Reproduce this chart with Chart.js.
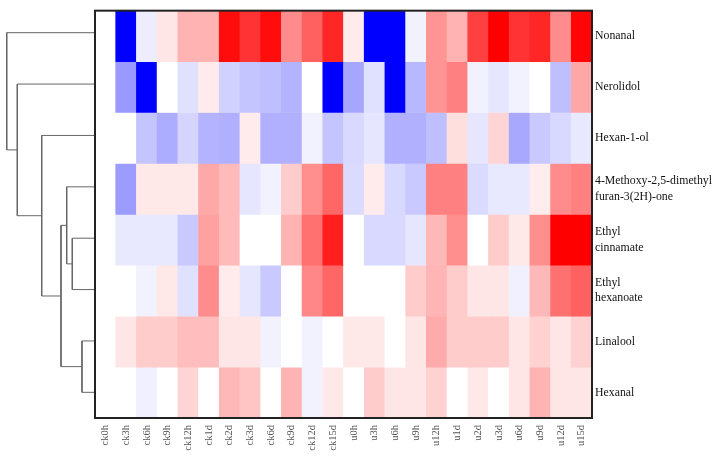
<!DOCTYPE html>
<html>
<head>
<meta charset="utf-8">
<script src="https://cdn.jsdelivr.net/npm/chart.js@4.4.0/dist/chart.umd.min.js"></script>
<style>
  html, body { margin: 0; padding: 0; background: #fff; }
  #wrap { position: relative; width: 716px; height: 460px; }
  #wrap canvas { position: absolute; top: 0; left: 0; }
</style>
</head>
<body>
<div id="wrap">
  <canvas id="tree" width="95" height="460"></canvas>
  <canvas id="heat" width="716" height="460"></canvas>
</div>
<script>
// 样本（列）
const SAMPLES = ['ck0h', 'ck3h', 'ck6h', 'ck9h', 'ck12h', 'ck1d', 'ck2d', 'ck3d', 'ck6d', 'ck9d', 'ck12d', 'ck15d',
                 'u0h', 'u3h', 'u6h', 'u9h', 'u12h', 'u1d', 'u2d', 'u3d', 'u6d', 'u9d', 'u12d', 'u15d'];

// 化合物（行，自上而下）
const COMPOUNDS = [
    ['Nonanal'],
    ['Nerolidol'],
    ['Hexan-1-ol'],
    ['4-Methoxy-2,5-dimethyl', 'furan-3(2H)-one'],
    ['Ethyl', 'cinnamate'],
    ['Ethyl', 'hexanoate'],
    ['Linalool'],
    ['Hexanal']
];

// 标准化含量（-1 蓝 … 0 白 … 1 红）
const NONANAL      = [0, -1, -0.07, 0.1, 0.3, 0.3, 0.95, 0.8, 0.95, 0.45, 0.62, 0.85, 0.08, -1, -1, -0.05, 0.42, 0.3, 0.75, 1.0, 0.8, 0.85, 0.45, 0.98];
const NEROLIDOL    = [0, -0.4, -1, 0, -0.12, 0.08, -0.18, -0.23, -0.25, -0.3, 0, -1, -0.35, -0.12, -1, -0.28, 0.42, 0.5, -0.05, -0.1, -0.05, 0, -0.25, 0.35];
const HEXANOL      = [0, 0, -0.23, -0.32, -0.17, -0.3, -0.31, 0.08, -0.31, -0.31, -0.05, -0.23, -0.15, -0.1, -0.31, -0.31, -0.25, 0.13, -0.1, 0.17, -0.34, -0.21, -0.15, -0.09];
const METHOXY      = [0, -0.39, 0.09, 0.09, 0.09, 0.34, 0.27, -0.1, -0.05, 0.2, 0.44, 0.6, -0.14, 0.08, -0.15, -0.21, 0.5, 0.5, -0.14, -0.09, -0.09, 0.07, 0.45, 0.5];
const CINNAMATE    = [0, -0.09, -0.09, -0.09, -0.21, 0.37, 0.27, 0, 0, 0.3, 0.56, 0.88, 0, -0.15, -0.15, -0.1, 0.28, 0.44, 0, 0.2, 0.09, 0.44, 1.0, 1.0];
const HEXANOATE    = [0, 0, -0.05, 0.09, -0.12, 0.45, 0.08, -0.1, -0.21, 0, 0.47, 0.6, 0, 0, 0, 0.2, 0.29, 0.2, 0.1, 0.1, -0.06, 0.28, 0.56, 0.62];
const LINALOOL     = [0, 0.1, 0.2, 0.2, 0.26, 0.26, 0.1, 0.1, -0.05, 0, -0.05, 0, 0.09, 0.09, 0, 0.1, 0.33, 0.2, 0.2, 0.2, 0.1, 0.18, 0.1, 0.18];
const HEXANAL      = [0, 0, -0.06, 0, 0.17, 0, 0.28, 0.23, 0, 0.3, -0.05, 0.09, 0, 0.2, 0.1, 0.1, 0.18, 0, 0.09, 0, 0.1, 0.3, 0.1, 0.1];

const ROWS = [NONANAL, NEROLIDOL, HEXANOL, METHOXY, CINNAMATE, HEXANOATE, LINALOOL, HEXANAL];

// 行聚类：[子节点A, 子节点B, 高度]，叶子 0-7，合并节点从 8 起
const LINKAGE = [
    [4, 5, 2.39],
    [3, 8, 2.98],
    [6, 7, 1.37],
    [9, 10, 3.58],
    [2, 11, 5.61],
    [1, 12, 8.18],
    [0, 13, 9.29]
];

const FONT = 'Liberation Serif';

// 蓝-白-红色阶
function shade(v) {
    if (v >= 0) {
        const c = Math.round(255 * (1 - v));
        return `rgb(255,${c},${c})`;
    }
    const c = Math.round(255 * (1 + v));
    return `rgb(${c},${c},255)`;
}

// 树状图
function buildTree() {
    const nodes = ROWS.map((_, i) => ({ h: 0, y: i + 0.5 }));
    const segments = [];
    LINKAGE.forEach(([a, b, h]) => {
        const A = nodes[a], B = nodes[b];
        segments.push([
            { x: A.h, y: A.y }, { x: h, y: A.y },
            { x: h, y: B.y }, { x: B.h, y: B.y }
        ]);
        nodes.push({ h, y: (A.y + B.y) / 2 });
    });

    new Chart(document.getElementById('tree'), {
        type: 'scatter',
        data: {
            datasets: segments.map(pts => ({
                data: pts,
                showLine: true,
                borderColor: '#666',
                borderWidth: 1,
                pointRadius: 0,
                tension: 0
            }))
        },
        options: {
            responsive: false,
            animation: false,
            layout: { padding: { top: 7, bottom: 42, left: 0, right: 0 } },
            plugins: { legend: { display: false }, tooltip: { enabled: false } },
            scales: {
                x: { type: 'linear', min: 0, max: 10, reverse: true, display: false },
                y: { type: 'linear', min: 0, max: 8, reverse: true, display: false }
            }
        }
    });
}

// 外框
const framePlugin = {
    id: 'frame',
    afterDatasetsDraw(chart) {
        const { ctx, chartArea: a } = chart;
        ctx.save();
        ctx.strokeStyle = '#222';
        ctx.lineWidth = 2;
        ctx.strokeRect(a.left, a.top, a.right - a.left, a.bottom - a.top);
        ctx.restore();
    }
};

// 热图
function buildHeatmap() {
    new Chart(document.getElementById('heat'), {
        type: 'bar',
        data: {
            labels: SAMPLES,
            datasets: ROWS.map((vals, r) => ({
                data: SAMPLES.map(() => [r, r + 1]),
                backgroundColor: ctx => shade(vals[ctx.dataIndex]),
                borderWidth: 0,
                borderSkipped: false,
                grouped: false,
                barPercentage: 1,
                categoryPercentage: 1
            }))
        },
        options: {
            responsive: false,
            animation: false,
            layout: { padding: { top: 7, left: 95, right: 0, bottom: 0 } },
            plugins: { legend: { display: false }, tooltip: { enabled: false } },
            scales: {
                x: {
                    type: 'category',
                    grid: { display: false, drawTicks: false },
                    border: { display: false },
                    ticks: {
                        maxRotation: 90, minRotation: 90,
                        color: '#555',
                        padding: 7,
                        font: { family: FONT, size: 10.5 }
                    },
                    afterFit(scale) { scale.height = 42; }
                },
                y: {
                    type: 'linear',
                    position: 'right',
                    min: 0, max: 8,
                    reverse: true,
                    grid: { display: false, drawTicks: false },
                    border: { display: false },
                    afterBuildTicks(scale) {
                        scale.ticks = COMPOUNDS.map((_, i) => ({ value: i + 0.5 }));
                    },
                    ticks: {
                        crossAlign: 'near',
                        padding: 3,
                        color: '#111',
                        font: { family: FONT, size: 11.8, lineHeight: 1.3 },
                        callback: v => COMPOUNDS[Math.floor(v)]
                    },
                    afterFit(scale) { scale.width = 124; }
                }
            }
        },
        plugins: [framePlugin]
    });
}

buildTree();
buildHeatmap();
</script>
</body>
</html>
